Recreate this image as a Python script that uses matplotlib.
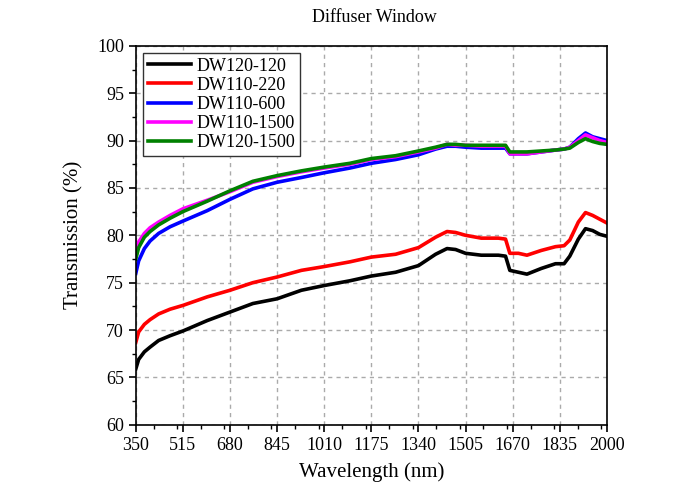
import matplotlib
matplotlib.use("Agg")
import matplotlib.pyplot as plt
from matplotlib.ticker import MultipleLocator

# wavelengths (nm)
wavelength = [350, 360, 380, 400, 430, 470, 515, 600, 680, 760, 845, 930, 1010,
              1100, 1175, 1260, 1340, 1400, 1440, 1470, 1505, 1560, 1620, 1645,
              1660, 1690, 1720, 1770, 1820, 1850, 1870, 1900, 1925, 1950, 1975, 2000]

dw120_120 = [65.9, 66.9, 67.7, 68.2, 68.9, 69.4, 69.9, 71.0, 71.9, 72.8, 73.3, 74.2,
             74.7, 75.2, 75.7, 76.1, 76.8, 78.0, 78.6, 78.5, 78.1, 77.9, 77.9, 77.8,
             76.3, 76.1, 75.9, 76.5, 77.0, 77.0, 77.8, 79.6, 80.7, 80.5, 80.1, 79.9]
dw110_220 = [68.7, 69.8, 70.6, 71.1, 71.7, 72.2, 72.6, 73.5, 74.2, 75.0, 75.6, 76.3,
             76.7, 77.2, 77.7, 78.0, 78.7, 79.8, 80.4, 80.3, 80.0, 79.7, 79.7, 79.6,
             78.1, 78.1, 77.9, 78.4, 78.8, 78.9, 79.5, 81.4, 82.4, 82.1, 81.7, 81.3]
dw110_600 = [76.0, 77.3, 78.6, 79.4, 80.2, 80.9, 81.5, 82.6, 83.8, 84.9, 85.6, 86.1,
             86.6, 87.1, 87.6, 88.0, 88.5, 89.1, 89.4, 89.4, 89.3, 89.2, 89.2, 89.2,
             88.6, 88.6, 88.6, 88.8, 89.0, 89.1, 89.3, 90.2, 90.8, 90.4, 90.2, 90.0]
dw110_1500 = [78.3, 79.3, 80.2, 80.8, 81.4, 82.1, 82.8, 83.7, 84.6, 85.6, 86.2, 86.7,
              87.1, 87.5, 88.0, 88.3, 88.8, 89.2, 89.6, 89.5, 89.5, 89.4, 89.4, 89.4,
              88.6, 88.6, 88.6, 88.8, 89.0, 89.1, 89.3, 90.0, 90.6, 90.3, 90.0, 89.8]
dw120_1500 = [77.5, 78.7, 79.8, 80.4, 81.1, 81.8, 82.5, 83.6, 84.7, 85.7, 86.3, 86.8,
              87.2, 87.6, 88.1, 88.4, 88.9, 89.3, 89.6, 89.6, 89.5, 89.5, 89.5, 89.5,
              88.8, 88.8, 88.8, 88.9, 89.0, 89.1, 89.2, 89.8, 90.2, 89.9, 89.7, 89.6]

series = [
    ("DW120-120", dw120_120, "black"),
    ("DW110-220", dw110_220, "red"),
    ("DW110-600", dw110_600, "blue"),
    ("DW110-1500", dw110_1500, "magenta"),
    ("DW120-1500", dw120_1500, "green"),
]

x_ticks = [350, 515, 680, 845, 1010, 1175, 1340, 1505, 1670, 1835, 2000]

plt.rcParams["font.family"] = ["Liberation Serif", "DejaVu Serif"]

fig = plt.figure(figsize=(7, 4.98), dpi=100)
ax = fig.add_axes([0.194, 0.147, 0.673, 0.761])

for name, vals, color in series:
    ax.plot(wavelength, vals, color=color, lw=2.6, label=name)

ax.set_xlim(350, 2000)
ax.set_ylim(60, 100)
ax.set_xticks(x_ticks)
ax.xaxis.set_minor_locator(MultipleLocator(82.5))
ax.yaxis.set_major_locator(MultipleLocator(5))
ax.yaxis.set_minor_locator(MultipleLocator(2.5))
ax.tick_params(which="major", direction="out", length=5, width=1.2, labelsize=13)
ax.tick_params(which="minor", direction="out", length=3, width=1.0)
ax.grid(True, which="major", color="#aaaaaa", linestyle=(0, (3, 3)), linewidth=1.0)
for s in ax.spines.values():
    s.set_linewidth(1.2)

ax.set_xlabel("Wavelength (nm)", fontsize=15, labelpad=6)
ax.set_ylabel("Transmission (%)", fontsize=15, labelpad=10)
fig.text(0.535, 0.965, "Diffuser Window", ha="center", va="center", fontsize=13)

leg = ax.legend(loc="upper left", fontsize=13, fancybox=False, framealpha=1,
                edgecolor="#333333", borderaxespad=0.4, handlelength=2.4,
                labelspacing=0.12, handletextpad=0.3, borderpad=0.25)
leg.get_frame().set_linewidth(1.0)

fig.savefig("out.png", dpi=100)
